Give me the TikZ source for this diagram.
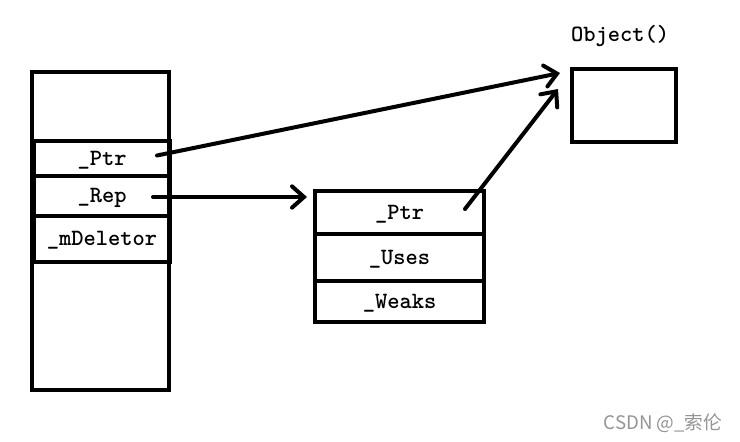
\documentclass[tikz,border=0pt]{standalone}
\usepackage{fontspec}
\newfontfamily\cjkfont{Noto Sans CJK SC}
\usetikzlibrary{arrows.meta,calc}
\begin{document}
\begin{tikzpicture}[x=0.75pt,y=-0.75pt,
  lbl/.style={font=\ttfamily\bfseries\fontsize{17.5pt}{19pt}\selectfont},
  box/.style={draw=black,line width=3pt,rectangle,inner sep=0pt,outer sep=0pt,
    lbl,text height=12.5pt,text depth=2.5pt},
  ptrarrow/.style={line width=3pt,line cap=round,
    -{Straight Barb[length=9pt,width=16pt,line width=3pt,line cap=round]}}]
\useasboundingbox (0,0) rectangle (740,442);
% left block
\node[box,minimum width=137*0.75pt,minimum height=318*0.75pt] (lout) at (100.5,231) {};
\node[box,minimum width=136*0.75pt,minimum height=35*0.75pt] (lptr) at (102,158.5) {\_Ptr};
\node[box,minimum width=136*0.75pt,minimum height=40*0.75pt] (lrep) at (102,196) {\_Rep};
\node[box,minimum width=136*0.75pt,minimum height=46*0.75pt] (ldel) at (102,239) {\_mDeletor};
% middle block
\node[box,minimum width=169*0.75pt,minimum height=43*0.75pt] (mptr) at (399.5,212.5) {\_Ptr};
\node[box,minimum width=169*0.75pt,minimum height=47*0.75pt] (muse) at (399.5,257.5) {\_Uses};
\node[box,minimum width=169*0.75pt,minimum height=41*0.75pt] (mweak) at (399.5,301.5) {\_Weaks};
% object
\node[box,minimum width=104*0.75pt,minimum height=73*0.75pt] (obj) at (624,105.5) {};
\node[lbl,inner sep=0pt,anchor=south] (objlbl) at ($(obj.north)+(-4,-22)$) {Object()};
% arrows
\coordinate (t1) at ($(obj.north west)+(-12,4)$);
\coordinate (t2) at ($(obj.north west)+(-14,20)$);
\coordinate (t3) at ($(mptr.west)+(-8,-15.5)$);
\draw[ptrarrow] ($(lptr.east)+(-13,-3)$) -- (t1);
\draw[ptrarrow] ($(lrep.east)+(-17,1)$) -- (t3);
\draw[ptrarrow] ($(mptr.east)+(-19,-3.5)$) -- (t2);
% watermark
\node[font=\cjkfont\fontsize{14pt}{16pt}\selectfont,text=black!42,inner sep=0pt] (wm) at (663,423) {CSDN @\_索伦};
\end{tikzpicture}
\end{document}
